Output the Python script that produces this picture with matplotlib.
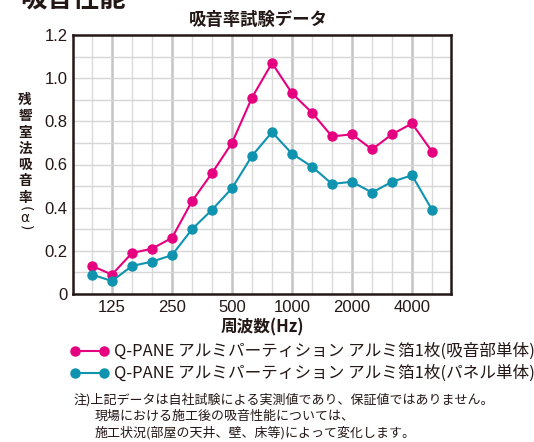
import matplotlib.pyplot as plt
import numpy as np

plt.rcParams['font.family'] = ['Noto Sans CJK JP', 'DejaVu Sans']

# 1/3 octave band centre frequencies (Hz)
FREQS = [100, 125, 160, 200, 250, 315, 400, 500, 630, 800,
         1000, 1250, 1600, 2000, 2500, 3150, 4000, 5000]
TICK_FREQS = [125, 250, 500, 1000, 2000, 4000]

ABSORB_PART = [0.13, 0.09, 0.19, 0.21, 0.26, 0.43, 0.56, 0.70, 0.91, 1.07,
               0.93, 0.84, 0.73, 0.74, 0.67, 0.74, 0.79, 0.66]
PANEL_ONLY = [0.09, 0.06, 0.13, 0.15, 0.18, 0.30, 0.39, 0.49, 0.64, 0.75,
              0.65, 0.59, 0.51, 0.52, 0.47, 0.52, 0.55, 0.39]

LABELS = [
    'Q-PANE アルミパーティション アルミ箔1枚(吸音部単体)',
    'Q-PANE アルミパーティション アルミ箔1枚(パネル単体)',
]
YTICKS = [0, 0.2, 0.4, 0.6, 0.8, 1.0, 1.2]
YTICK_LABELS = ['0', '0.2', '0.4', '0.6', '0.8', '1.0', '1.2']
YLABEL_CHARS = '残響室法吸音率'

PINK = '#e5007f'
TEXT = '#231815'
TEAL = '#0f93ae'

NOTES = [
    '注)上記データは自社試験による実測値であり、保証値ではありません。',
    '現場における施工後の吸音性能については、',
    '施工状況(部屋の天井、壁、床等)によって変化します。',
]

W, H = 534, 442
fig = plt.figure(figsize=(W / 100, H / 100), dpi=100)
ax = fig.add_axes([73 / W, 1 - 294 / H, 378 / W, 259 / H])

x = np.arange(len(FREQS))
tick_idx = [FREQS.index(f) for f in TICK_FREQS]

# grid: octave bands darker and thicker
for i in x:
    major = i in tick_idx
    ax.axvline(i, color='#c4c4c4' if major else '#dadada',
               lw=1.8 if major else 1.0, zorder=0)
for yv in np.arange(0.1, 1.2, 0.1):
    ax.axhline(yv, color='#d6d6d6', lw=1.0, zorder=0)

ax.plot(x, ABSORB_PART, color=PINK, lw=1.5, marker='o', ms=6.5, zorder=3)
ax.plot(x, PANEL_ONLY, color=TEAL, lw=1.5, marker='o', ms=6.5, zorder=3)

ax.set_xlim(-0.95, len(FREQS) - 0.05)
ax.set_ylim(0, 1.2)
ax.set_xticks(tick_idx)
ax.set_xticklabels([str(f) for f in TICK_FREQS], family='Liberation Sans',
                   fontsize=12, color=TEXT)
ax.set_yticks(YTICKS)
ax.set_yticklabels(YTICK_LABELS, family='Liberation Sans', fontsize=12,
                   color=TEXT)
ax.tick_params(length=0, pad=4)
for sp in ax.spines.values():
    sp.set_linewidth(1.8)
    sp.set_color(TEXT)

ax.set_title('吸音率試験データ', fontsize=12.5, fontweight='bold',
             color=TEXT, pad=7, x=0.49)
ax.set_xlabel('周波数(Hz)', fontsize=12, fontweight='bold', color=TEXT,
              labelpad=3)

# vertical y label, characters stacked upright
for k, ch in enumerate(YLABEL_CHARS):
    fig.text(25 / W, 1 - (100 + 16.3 * k) / H, ch, fontsize=9.8,
             fontweight='bold', color=TEXT, ha='center', va='center')
fig.text(25 / W, 1 - 209 / H, '(', fontsize=10, rotation=-90,
         family='DejaVu Sans', color=TEXT, ha='center', va='center')
fig.text(25 / W, 1 - 218 / H, 'α', fontsize=10, family='DejaVu Sans',
         color=TEXT, ha='center', va='center')
fig.text(25 / W, 1 - 228 / H, ')', fontsize=10, rotation=-90,
         family='DejaVu Sans', color=TEXT, ha='center', va='center')

# cropped section heading at the very top
fig.text(20 / W, 1 - 13 / H, '吸音性能', fontsize=19, fontweight='bold',
         color=TEXT, ha='left', va='bottom')

# legend drawn by hand
for k, (lab, col) in enumerate(zip(LABELS, [PINK, TEAL])):
    yy = 1 - (351 + 22 * k) / H
    fig.add_artist(plt.Line2D([75 / W, 104 / W], [yy, yy], color=col,
                              lw=1.5, marker='o', ms=6.5,
                              transform=fig.transFigure))
    fig.text(114 / W, yy, lab, fontsize=11.95, color=TEXT, ha='left',
             va='center')

for k, note in enumerate(NOTES):
    xx = 73 if k == 0 else 95
    fig.text(xx / W, 1 - (400 + 16.5 * k) / H, note, fontsize=9.35,
             color=TEXT, ha='left', va='center')

fig.savefig('out.png', dpi=100)
